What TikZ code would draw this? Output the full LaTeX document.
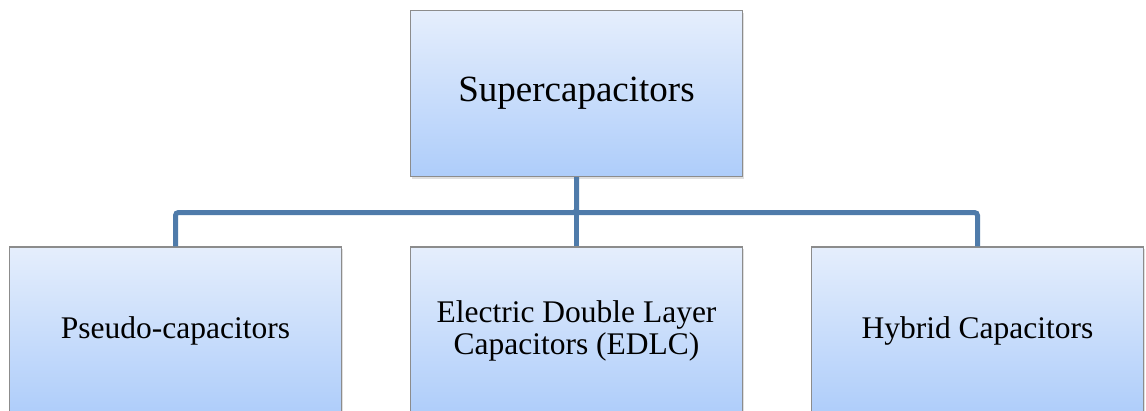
\documentclass[tikz,border=0pt]{standalone}
\usepackage{fontspec}
\setmainfont{Liberation Serif}
\usetikzlibrary{shadows}
\definecolor{boxtop}{HTML}{E5EEFC}
\definecolor{boxbot}{HTML}{AECDFA}
\definecolor{boxline}{HTML}{8C8C8C}
\definecolor{connline}{HTML}{4F7BAA}
\tikzset{
  card/.style={draw=boxline, line width=1.2pt, top color=boxtop, bottom color=boxbot,
    minimum width=332pt, inner sep=0pt, align=center,
    drop shadow={shadow xshift=1.5pt, shadow yshift=-2pt, opacity=0.25}},
  topcard/.style={card, minimum height=166pt, font=\fontsize{37}{40}\selectfont},
  subcard/.style={card, minimum height=167pt, font=\fontsize{31.5}{32}\selectfont},
  conn/.style={draw=connline, line width=5pt, rounded corners=3pt}
}
\begin{document}
\begin{tikzpicture}[x=1pt,y=-1pt]
\useasboundingbox (0,0) rectangle (1146,410);
\clip (0,0) rectangle (1146,410);
\fill[white] (0,0) rectangle (1146,410);
\node[topcard] (top) at (576.5,93.5) {Supercapacitors};
\node[subcard] (left) at (175.5,330.5) {Pseudo-capacitors};
\node[subcard] (mid) at (576.5,330.5) {Electric Double Layer\\Capacitors (EDLC)};
\node[subcard] (right) at (977.5,330.5) {Hybrid Capacitors};
\coordinate (bus) at (576.5,212.5);
\draw[conn] (top.south) -- (bus) -| (left.north);
\draw[conn] (bus) -| (right.north);
\draw[conn] (bus) -- (mid.north);
\end{tikzpicture}
\end{document}
